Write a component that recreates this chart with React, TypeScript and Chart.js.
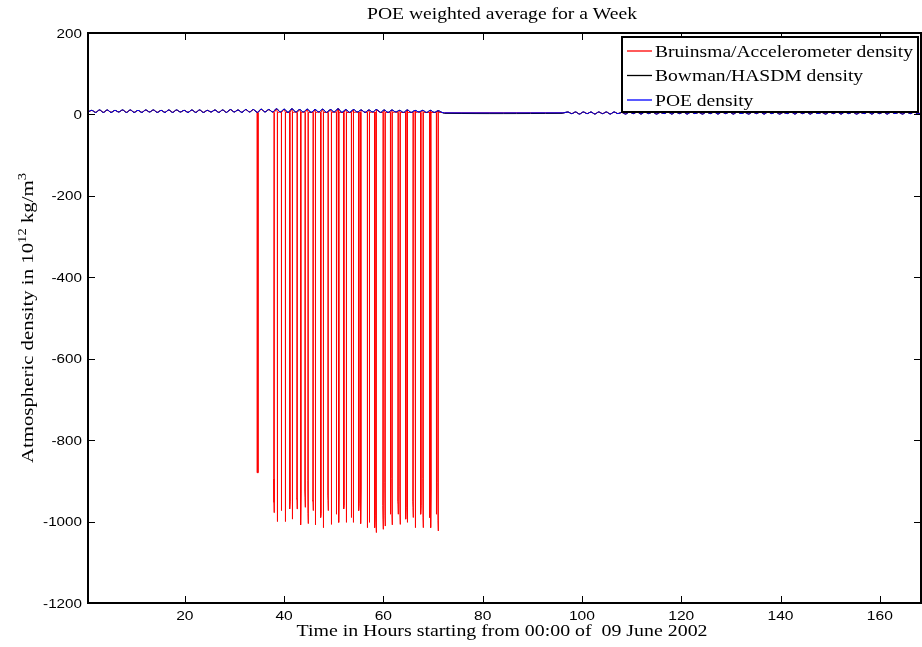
import React, { useEffect, useRef } from "react";
import { Chart, registerables } from "chart.js";
Chart.register(...registerables);

// ---------------- text ----------------
const TITLE = "POE weighted average for a Week";
const X_TITLE = "Time in Hours starting from 00:00 of  09 June 2002";
const Y_TITLE_PARTS: [string, boolean][] = [
  ["Atmospheric density in 10", false],
  ["12", true],
  [" kg/m", false],
  ["3", true],
];
const LEGEND_LABELS = ["Bruinsma/Accelerometer density", "Bowman/HASDM density", "POE density"];
const LEGEND_COLORS = ["#ff0000", "#000000", "#0000ff"];

// ---------------- axes ----------------
const X_MIN = 0.5;
const X_MAX = 168.3;
const Y_MIN = -1200;
const Y_MAX = 200;
const X_TICKS = [20, 40, 60, 80, 100, 120, 140, 160];
const Y_TICKS = [200, 0, -200, -400, -600, -800, -1000, -1200];

// ---------------- data ----------------
// POE density: orbit-period oscillation, crest / trough samples every half orbit (hours)
const HALF_ORBIT = 0.775;
const WAVE1_START = 0.5;
const WAVE1 = [
  6, 10, 5, 11, 5, 11, 5, 10, 6, 11,
  5, 11, 5, 10, 5, 11, 6, 11, 5, 10,
  5, 11, 5, 11, 6, 10, 5, 11, 5, 11,
  5, 10, 6, 11, 5, 11, 5, 12, 6, 11,
  5, 12, 6, 12, 5, 13, 6, 12, 6, 14,
  6, 13, 5, 14, 6, 12, 6, 13, 5, 12,
  6, 13, 5, 12, 6, 14, 5, 12, 5, 12,
  6, 11, 5, 11, 6, 12, 5, 11, 5, 11,
  6, 10, 5, 11, 5, 10, 6, 10, 5, 10,
  5, 9, 5,
];
const FLAT_TIMES = [72.3, 96.0];
const POE_FLAT_VALUES = [4, 4];
const BOWMAN_FLAT_VALUES = [2.6, 2.6];
const WAVE2_START = 96.4;
const WAVE2 = [
  4, 6, 2, 6, 1, 6, 2, 6, 1, 6,
  2, 6, 1, 6, 2, 5, 1, 6, 2, 6,
  1, 6, 2, 6, 1, 5, 2, 6, 1, 6,
  2, 6, 1, 6, 2, 5, 1, 6, 2, 6,
  1, 6, 2, 6, 1, 6, 2, 5, 1, 6,
  2, 6, 1, 6, 2, 6, 1, 5, 2, 6,
  1, 6, 2, 6, 1, 6, 2, 5, 1, 6,
  2, 6, 1, 6, 2, 6, 1, 5, 2, 6,
  1, 6, 2, 6, 1, 6, 2, 5, 1, 6,
  2, 6, 1, 6,
];

// Accelerometer density drop-outs (hours, value where the noisy part starts, value at bottom)
const LONE_SPIKE_TIME = 34.7;
const LONE_SPIKE_BOTTOM = -880;
const SPIKE_TOP = 5;
const SPIKE_TIMES = [
  37.99, 38.67, 39.48, 40.28, 41.16, 41.69, 42.63, 43.37, 44.25, 44.85,
  45.86, 46.33, 47.4, 47.94, 48.88, 49.55, 50.56, 51.03, 52.04, 52.57,
  53.58, 53.98, 55.06, 55.46, 56.8, 57.21, 58.28, 58.55, 59.96, 60.36,
  61.44, 61.77, 62.98, 63.38, 64.53, 64.86, 66.0, 66.47, 67.55, 68.02,
  69.36, 69.56, 70.7, 71.04,
];
const SPIKE_KNEES = [
  -895, -905, -940, -895, -930, -890, -945, -910, -925, -900,
  -950, -905, -960, -920, -935, -890, -950, -905, -940, -900,
  -955, -910, -935, -895, -960, -920, -965, -915, -960, -905,
  -935, -895, -950, -915, -945, -900, -950, -910, -940, -895,
  -945, -900, -935, -905,
];
const SPIKE_BOTTOMS = [
  -978, -1000, -973, -1000, -969, -994, -969, -1008, -965, -1005,
  -973, -1008, -990, -1015, -973, -1007, -982, -1002, -969, -1002,
  -990, -1002, -973, -1005, -1015, -1002, -1015, -1027, -1019, -1011,
  -982, -1008, -982, -1007, -994, -1002, -990, -1015, -982, -1015,
  -990, -1015, -982, -1023,
];

type Pt = { x: number; y: number };

function buildWave(flatValues: number[]): Pt[] {
  const pts: Pt[] = [];
  WAVE1.forEach((v, i) => pts.push({ x: WAVE1_START + i * HALF_ORBIT, y: v }));
  FLAT_TIMES.forEach((t, i) => pts.push({ x: t, y: flatValues[i] }));
  WAVE2.forEach((v, i) => pts.push({ x: WAVE2_START + i * HALF_ORBIT, y: v }));
  return pts;
}

function buildAccel(base: Pt[]): Pt[] {
  // groups keep their internal order; groups are ordered by time
  const groups: { key: number; pts: Pt[] }[] = base.map((p) => ({ key: p.x, pts: [{ x: p.x, y: p.y }] }));
  groups.push({
    key: LONE_SPIKE_TIME,
    pts: [
      { x: LONE_SPIKE_TIME - 0.12, y: SPIKE_TOP },
      { x: LONE_SPIKE_TIME - 0.06, y: LONE_SPIKE_BOTTOM },
      { x: LONE_SPIKE_TIME + 0.06, y: LONE_SPIKE_BOTTOM },
      { x: LONE_SPIKE_TIME + 0.12, y: SPIKE_TOP },
    ],
  });
  SPIKE_TIMES.forEach((t, i) => {
    groups.push({
      key: t,
      pts: [
        { x: t - 0.02, y: SPIKE_TOP },
        { x: t - 0.08, y: SPIKE_KNEES[i] },
        { x: t - 0.03, y: SPIKE_BOTTOMS[i] + 25 },
        { x: t, y: SPIKE_BOTTOMS[i] },
        { x: t + 0.07, y: SPIKE_KNEES[i] - 20 },
        { x: t + 0.02, y: SPIKE_TOP },
      ],
    });
  });
  groups.sort((a, b) => a.key - b.key);
  const out: Pt[] = [];
  groups.forEach((g) => g.pts.forEach((p) => out.push(p)));
  return out;
}

const SERIF = '"Liberation Serif", "Times New Roman", serif';
const SANS = '"Liberation Sans", Arial, sans-serif';

function drawStretched(ctx: CanvasRenderingContext2D, text: string, x: number, y: number, sx: number, align: CanvasTextAlign) {
  ctx.save();
  ctx.translate(x, y);
  ctx.scale(sx, 1);
  ctx.textAlign = align;
  ctx.textBaseline = "alphabetic";
  ctx.fillText(text, 0, 0);
  ctx.restore();
}

function drawFitted(ctx: CanvasRenderingContext2D, text: string, cx: number, baseline: number, width: number) {
  const w = ctx.measureText(text).width;
  drawStretched(ctx, text, cx, baseline, width / w, "center");
}

const decorPlugin = {
  id: "matlabDecor",
  afterDraw(chart: any) {
    const ctx: CanvasRenderingContext2D = chart.ctx;
    const { left, right, top, bottom } = chart.chartArea;
    const xs = chart.scales.x;
    const ys = chart.scales.y;
    ctx.save();
    ctx.fillStyle = "#000";
    ctx.strokeStyle = "#000";

    // ticks (inward, all four sides)
    ctx.lineWidth = 1;
    ctx.beginPath();
    X_TICKS.forEach((v) => {
      const px = Math.round(xs.getPixelForValue(v)) + 0.5;
      ctx.moveTo(px, bottom);
      ctx.lineTo(px, bottom - 7);
      ctx.moveTo(px, top);
      ctx.lineTo(px, top + 7);
    });
    Y_TICKS.forEach((v) => {
      const py = Math.round(ys.getPixelForValue(v)) + 0.5;
      ctx.moveTo(left, py);
      ctx.lineTo(left + 7, py);
      ctx.moveTo(right, py);
      ctx.lineTo(right - 7, py);
    });
    ctx.stroke();

    // box
    ctx.lineWidth = 2;
    ctx.strokeRect(left, top, right - left, bottom - top);

    // tick labels
    ctx.font = `13px ${SANS}`;
    Y_TICKS.forEach((v) => {
      const py = ys.getPixelForValue(v);
      drawStretched(ctx, String(v), left - 6, py + 4.6, 1.17, "right");
    });
    X_TICKS.forEach((v) => {
      const px = xs.getPixelForValue(v);
      drawStretched(ctx, String(v), px, bottom + 17, 1.2, "center");
    });

    // title & x title
    ctx.font = `17px ${SERIF}`;
    drawFitted(ctx, TITLE, 502, 18.5, 270);
    drawFitted(ctx, X_TITLE, 502, 636, 411);

    // y title with superscripts
    const normalFont = `17px ${SERIF}`;
    const supFont = `12px ${SERIF}`;
    let total = 0;
    const widths = Y_TITLE_PARTS.map(([t, sup]) => {
      ctx.font = sup ? supFont : normalFont;
      const w = ctx.measureText(t).width;
      total += w;
      return w;
    });
    const sx = 290 / total;
    ctx.save();
    ctx.translate(33.3, 318);
    ctx.rotate(-Math.PI / 2);
    ctx.scale(sx, 1);
    let cur = -total / 2;
    ctx.textAlign = "left";
    Y_TITLE_PARTS.forEach(([t, sup], i) => {
      ctx.font = sup ? supFont : normalFont;
      ctx.fillText(t, cur, sup ? -7 : 0);
      cur += widths[i];
    });
    ctx.restore();

    // legend
    const lx = 622, ly = 37, lw = 296, lh = 75;
    ctx.fillStyle = "#fff";
    ctx.fillRect(lx, ly, lw, lh);
    ctx.lineWidth = 2;
    ctx.strokeStyle = "#000";
    ctx.strokeRect(lx, ly, lw, lh);
    const rows = [51, 75.5, 100];
    ctx.font = `17px ${SERIF}`;
    const lsx = 258 / ctx.measureText(LEGEND_LABELS[0]).width;
    LEGEND_LABELS.forEach((label, i) => {
      ctx.strokeStyle = LEGEND_COLORS[i];
      ctx.lineWidth = 1.3;
      ctx.beginPath();
      ctx.moveTo(627, rows[i]);
      ctx.lineTo(652, rows[i]);
      ctx.stroke();
      ctx.fillStyle = "#000";
      drawStretched(ctx, label, 655, rows[i] + 5.5, lsx, "left");
    });
    ctx.restore();
  },
};

export default function App() {
  const ref = useRef<HTMLCanvasElement>(null);
  useEffect(() => {
    document.body.style.margin = "0";
    const canvas = ref.current!;
    const poe = buildWave(POE_FLAT_VALUES);
    const bowman = buildWave(BOWMAN_FLAT_VALUES);
    const accel = buildAccel(poe);
    const chart = new Chart(canvas, {
      type: "line",
      data: {
        datasets: [
          {
            label: LEGEND_LABELS[0],
            data: accel,
            borderColor: "#ff0000",
            borderWidth: 1,
            pointRadius: 0,
            tension: 0,
            borderJoinStyle: "bevel",
            order: 3,
          },
          {
            label: LEGEND_LABELS[1],
            data: bowman,
            borderColor: "#000000",
            borderWidth: 1,
            pointRadius: 0,
            tension: 0.4,
            order: 2,
          },
          {
            label: LEGEND_LABELS[2],
            data: poe,
            borderColor: "#0000ff",
            borderWidth: 1,
            pointRadius: 0,
            tension: 0.4,
            order: 1,
          },
        ],
      },
      options: {
        responsive: false,
        animation: false,
        devicePixelRatio: 1,
        events: [],
        layout: { padding: { top: 33, right: 1, left: 0, bottom: 0 } },
        plugins: {
          legend: { display: false },
          tooltip: { enabled: false },
          title: { display: false },
        },
        scales: {
          x: {
            type: "linear",
            min: X_MIN,
            max: X_MAX,
            grid: { display: false },
            border: { display: false },
            ticks: { display: false },
            afterFit: (s: any) => {
              s.height = 44;
            },
          },
          y: {
            type: "linear",
            min: Y_MIN,
            max: Y_MAX,
            grid: { display: false },
            border: { display: false },
            ticks: { display: false },
            afterFit: (s: any) => {
              s.width = 88;
            },
          },
        },
      } as any,
      plugins: [decorPlugin],
    });
    return () => chart.destroy();
  }, []);
  return <canvas ref={ref} width={922} height={647} style={{ display: "block", width: 922, height: 647 }} />;
}
